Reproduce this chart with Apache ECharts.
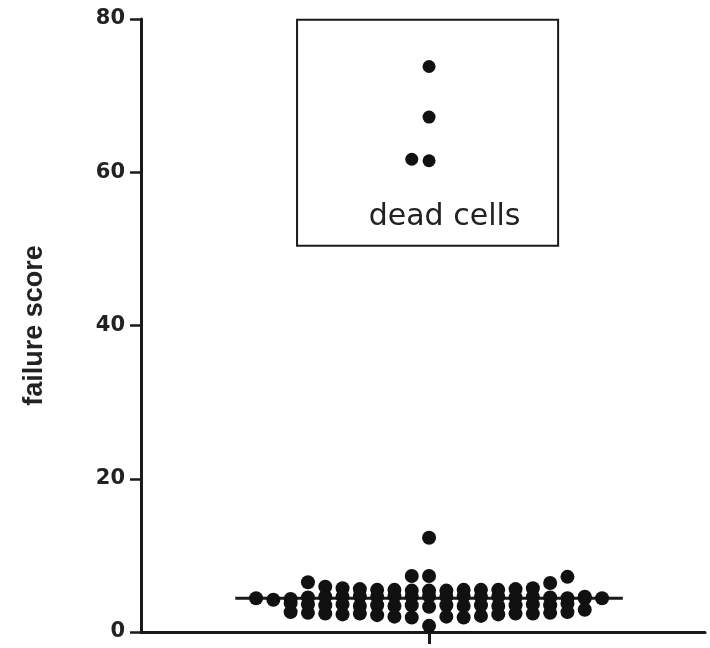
<!DOCTYPE html>
<html>
<head>
<meta charset="utf-8">
<script src="https://cdn.jsdelivr.net/npm/echarts@6/dist/echarts.min.js"></script>
<style>
  html, body { margin: 0; padding: 0; background: #fff; }
  #chart { width: 710px; height: 648px; }
</style>
</head>
<body>
<div id="chart"></div>
<script>
// y axis ticks
const yTicks = [0, 20, 40, 60, 80]

// dead cells (inside the box), one array per row of the swarm
const deadRow1 = [73.8]
const deadRow2 = [67.2]
const deadRow3 = [61.7, 61.5]

// living cells, one array per row of the swarm, left to right
const row12 = [12.3]
const row7 = [7.3, 7.3]
const row5 = [6.5, 5.9, 5.7, 5.6, 5.5, 5.5, 5.4, 5.4, 5.4, 5.5, 5.5, 5.5, 5.6, 5.7, 6.4, 7.2]
const row4 = [4.4, 4.2, 4.3, 4.5, 4.6, 4.6, 4.7, 4.6, 4.7, 4.6, 4.7, 4.6, 4.7, 4.6, 4.6, 4.5, 4.6, 4.5, 4.4, 4.6, 4.4]
const row3 = [3.8, 3.6, 3.5, 3.6, 3.4, 3.5, 3.4, 3.5, 3.3, 3.5, 3.4, 3.5, 3.4, 3.5, 3.6, 3.5, 3.7, 4.4]
const row2 = [2.6, 2.5, 2.4, 2.3, 2.4, 2.2, 2.0, 1.9, 0.8, 2.0, 1.9, 2.1, 2.3, 2.4, 2.4, 2.5, 2.6, 2.9]

// place a row side by side around the centre; lean picks the side that gets the extra dot
function swarm(values, lean) {
  const n = values.length
  const start = lean < 0 ? -Math.ceil((n - 1) / 2) : -Math.floor((n - 1) / 2)
  return values.map((v, i) => [start + i, v])
}

function median(arr) {
  const s = arr.slice().sort((a, b) => a - b)
  const m = Math.floor(s.length / 2)
  return s.length % 2 ? s[m] : (s[m - 1] + s[m]) / 2
}

const liveData = [].concat(
  swarm(row12, 1), swarm(row7, -1), swarm(row5, 1),
  swarm(row4, 1), swarm(row3, 1), swarm(row2, 1)
)
const deadData = [].concat(swarm(deadRow1, 1), swarm(deadRow2, 1), swarm(deadRow3, -1))

const allValues = [].concat(row12, row7, row5, row4, row3, row2, deadRow1, deadRow2, deadRow3)
const med = median(allValues)

const ink = '#1a1a1a'
const chart = echarts.init(document.getElementById('chart'))

chart.setOption({
  animation: false,
  grid: { left: 141, right: 5, top: 19, bottom: 16 },
  xAxis: {
    type: 'value',
    min: -16.65,
    max: 15.95,
    axisLine: { show: true, onZero: false, lineStyle: { color: ink, width: 3 } },
    axisTick: { show: true, customValues: [0], length: 12, lineStyle: { color: ink, width: 3 } },
    axisLabel: { show: false },
    splitLine: { show: false }
  },
  yAxis: {
    type: 'value',
    min: yTicks[0],
    max: yTicks[yTicks.length - 1],
    interval: 20,
    name: 'failure score',
    nameLocation: 'middle',
    nameGap: 93,
    nameTextStyle: { fontFamily: 'Liberation Sans', fontWeight: 'bold', fontSize: 27, color: '#222' },
    axisLine: { show: true, onZero: false, lineStyle: { color: ink, width: 3 } },
    axisTick: { show: true, length: 11, lineStyle: { color: ink, width: 2.5 } },
    axisLabel: {
      margin: 16,
      fontFamily: 'DejaVu Sans',
      fontWeight: 'bold',
      fontSize: 21,
      color: '#222'
    },
    splitLine: { show: false }
  },
  series: [
    {
      name: 'median',
      type: 'line',
      data: [[-11.2, med], [11.2, med]],
      symbol: 'none',
      lineStyle: { color: ink, width: 3 },
      z: 1,
      silent: true
    },
    {
      name: 'cells',
      type: 'scatter',
      data: liveData,
      symbolSize: 14,
      itemStyle: { color: '#111', opacity: 1 },
      z: 2
    },
    {
      name: 'dead cells',
      type: 'scatter',
      data: deadData,
      symbolSize: 13,
      itemStyle: { color: '#111', opacity: 1 },
      z: 2,
      markArea: {
        silent: true,
        itemStyle: { color: 'rgba(0,0,0,0)', borderColor: ink, borderWidth: 2 },
        label: {
          show: true,
          position: 'insideBottom',
          distance: 15,
          offset: [17, 0],
          formatter: 'dead cells',
          fontFamily: 'DejaVu Sans',
          fontSize: 30,
          color: '#222'
        },
        data: [[{ coord: [-7.63, 50.4] }, { coord: [7.46, 79.9] }]]
      }
    }
  ]
})
</script>
</body>
</html>
